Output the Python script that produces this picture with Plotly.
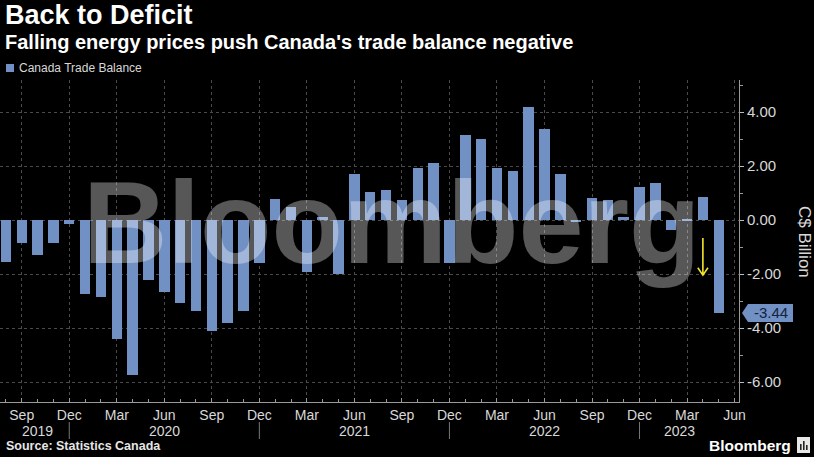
import pandas as pd
import plotly.graph_objects as go

# ---------------- data ----------------
months = [p.strftime("%b %Y") for p in pd.period_range("2019-08", "2023-05", freq="M")]
balance = [
    -1.54, -0.84, -1.30, -0.86, -0.15,            # Aug-Dec 2019
    -2.74, -2.85, -4.41, -5.75, -2.22, -2.65,     # Jan-Jun 2020
    -3.09, -3.37, -4.10, -3.80, -3.37, -1.60,     # Jul-Dec 2020
    0.77, 0.50, -1.91, 0.12, -2.01, 1.70,         # Jan-Jun 2021
    1.02, 1.11, 0.74, 1.92, 2.12, -1.58,          # Jul-Dec 2021
    3.13, 3.00, 1.91, 1.83, 4.20, 3.36,           # Jan-Jun 2022
    1.70, -0.05, 0.80, 0.75, 0.13, 1.22,          # Jul-Dec 2022
    1.38, -0.37, 0.02, 0.87, -3.44,               # Jan-May 2023
]
tick_months = (["Sep", "Dec", "Mar", "Jun"] * 4)[:16]
tick_idx = list(range(1, 47, 3))
year_labels = ["2019", "2020", "2021", "2022", "2023"]
year_pos = [2, 10, 22, 34, 42.5]
year_seps = [4, 16, 28, 40]
y_ticks = [-6, -4, -2, 0, 2, 4]
series_name = "Canada Trade Balance"

# ---------------- geometry ----------------
W, H = 814, 457
ML, MR, MT, MB = 0, 75, 80, 55
PW, PH = W - ML - MR, H - MT - MB
XMIN, XMAX = -0.372, 46.28
YMIN, YMAX = -6.74, 5.185

def px(x):  # pixel -> paper x
    return (x - ML) / PW

def py(y):  # pixel -> paper y
    return (H - MB - y) / PH

def vy(v):  # value -> paper y
    return (v - YMIN) / (YMAX - YMIN)

BAR = "#7190c4"
TXT = "#d8d8d8"
GRID = "#4a4a4a"
FONT = "Liberation Sans, Arial, sans-serif"

x_idx = list(range(len(balance)))

fig = go.Figure()
fig.add_trace(go.Bar(
    x=x_idx, y=balance, name=series_name, marker_color=BAR,
    marker_line_width=0, width=0.66, showlegend=False,
    customdata=months, hovertemplate="%{customdata}: %{y:.2f}<extra></extra>",
))

ann = []
shapes = []

# titles
ann.append(dict(text="Back to Deficit", x=px(3), y=py(15), xref="paper", yref="paper",
                xanchor="left", yanchor="middle", showarrow=False,
                font=dict(family=FONT, size=27, color="white", weight=700)))
ann.append(dict(text="Falling energy prices push Canada's trade balance negative",
                x=px(3), y=py(42), xref="paper", yref="paper",
                xanchor="left", yanchor="middle", showarrow=False,
                font=dict(family=FONT, size=20, color="white", weight=700)))
# legend
shapes.append(dict(type="rect", xref="paper", yref="paper", x0=px(6), x1=px(14),
                   y0=py(72), y1=py(64), fillcolor=BAR, line_width=0))
ann.append(dict(text=series_name, x=px(17), y=py(68.5), xref="paper", yref="paper",
                xanchor="left", yanchor="middle", showarrow=False,
                font=dict(family=FONT, size=12, color=TXT)))

# watermark
ann.append(dict(text="Bloomberg", x=px(392), y=py(222), xref="paper", yref="paper",
                xanchor="center", yanchor="middle", showarrow=False,
                font=dict(family=FONT, weight=700, size=117, color="rgba(255,255,255,0.34)")))

# year labels & separators
for lab, pos in zip(year_labels, year_pos):
    ann.append(dict(text=lab, x=pos, y=py(431), xref="x", yref="paper",
                    xanchor="center", yanchor="middle", showarrow=False,
                    font=dict(family=FONT, size=14, color=TXT)))
for s in year_seps:
    shapes.append(dict(type="line", xref="x", yref="paper", x0=s, x1=s,
                       y0=py(422), y1=py(439), line=dict(color="#777", width=1)))

# y axis title
ann.append(dict(text="C$ Billion", x=px(804), y=py(242), xref="paper", yref="paper",
                xanchor="center", yanchor="middle", showarrow=False, textangle=90,
                font=dict(family=FONT, size=17, color=TXT)))

# last value tag
last = balance[-1]
half = 9 * (YMAX - YMIN) / PH
shapes.append(dict(type="path", xref="paper", yref="paper",
                   path=f"M {px(742)},{vy(last)} L {px(748)},{vy(last + half)} L {px(793)},{vy(last + half)} "
                        f"L {px(793)},{vy(last - half)} L {px(748)},{vy(last - half)} Z",
                   fillcolor=BAR, line_width=0))
ann.append(dict(text=f"{last:.2f}", x=px(770.5), y=vy(last), xref="paper", yref="paper",
                xanchor="center", yanchor="middle", showarrow=False,
                font=dict(family=FONT, size=15, color="#15233d")))

# yellow arrow near Apr 2023
ai = len(balance) - 2
a_top, a_bot = -0.67, -2.04
ch_w, ch_h = 0.32, 0.27
shapes.append(dict(type="path", xref="x", yref="y",
                   path=f"M {ai},{a_top} L {ai},{a_bot} M {ai - ch_w},{a_bot + ch_h} L {ai},{a_bot} L {ai + ch_w},{a_bot + ch_h}",
                   line=dict(color="#f2e52a", width=1.6)))

# source & logo
ann.append(dict(text="Source: Statistics Canada", x=px(4), y=py(446), xref="paper", yref="paper",
                xanchor="left", yanchor="middle", showarrow=False,
                font=dict(family=FONT, size=12.5, color="#e6e6e6", weight=700)))
ann.append(dict(text="Bloomberg", x=px(793), y=py(445), xref="paper", yref="paper",
                xanchor="right", yanchor="middle", showarrow=False,
                font=dict(family=FONT, size=15.5, color="white", weight=700)))
shapes.append(dict(type="rect", xref="paper", yref="paper", x0=px(797), x1=px(810),
                   y0=py(453), y1=py(437), fillcolor="#e8e8e8", line_width=0))
for bx, bh in [(800, 6), (803, 9), (806, 5)]:
    shapes.append(dict(type="rect", xref="paper", yref="paper", x0=px(bx), x1=px(bx + 1.6),
                       y0=py(450), y1=py(450 - bh), fillcolor="#222", line_width=0))

fig.update_layout(
    width=W, height=H,
    margin=dict(l=ML, r=MR, t=MT, b=MB, pad=0),
    paper_bgcolor="black", plot_bgcolor="black",
    showlegend=False, bargap=0,
    annotations=ann, shapes=shapes,
    xaxis=dict(range=[XMIN, XMAX], tickvals=tick_idx, ticktext=tick_months,
               showgrid=True, gridcolor=GRID, griddash="dot", gridwidth=1,
               zeroline=False, showline=True, linecolor="#9a9a9a", linewidth=1,
               ticks="inside", ticklen=4, tickcolor="#9a9a9a",
               minor=dict(dtick=1, tick0=0, ticks="inside", ticklen=3, tickcolor="#9a9a9a", showgrid=False),
               tickfont=dict(family=FONT, size=14, color=TXT), fixedrange=True),
    yaxis=dict(range=[YMIN, YMAX], side="right", tickvals=y_ticks,
               ticktext=[f"{v:.2f}" for v in y_ticks],
               showgrid=True, gridcolor=GRID, griddash="dot", gridwidth=1,
               zeroline=False, showline=True, linecolor="#9a9a9a", linewidth=1,
               ticks="outside", ticklen=4, tickcolor="#bbbbbb",
               minor=dict(dtick=1, tick0=0, ticks="outside", ticklen=3, tickcolor="#9a9a9a", showgrid=False),
               tickfont=dict(family=FONT, size=15, color=TXT), fixedrange=True),
)

fig.write_html("out.html")
